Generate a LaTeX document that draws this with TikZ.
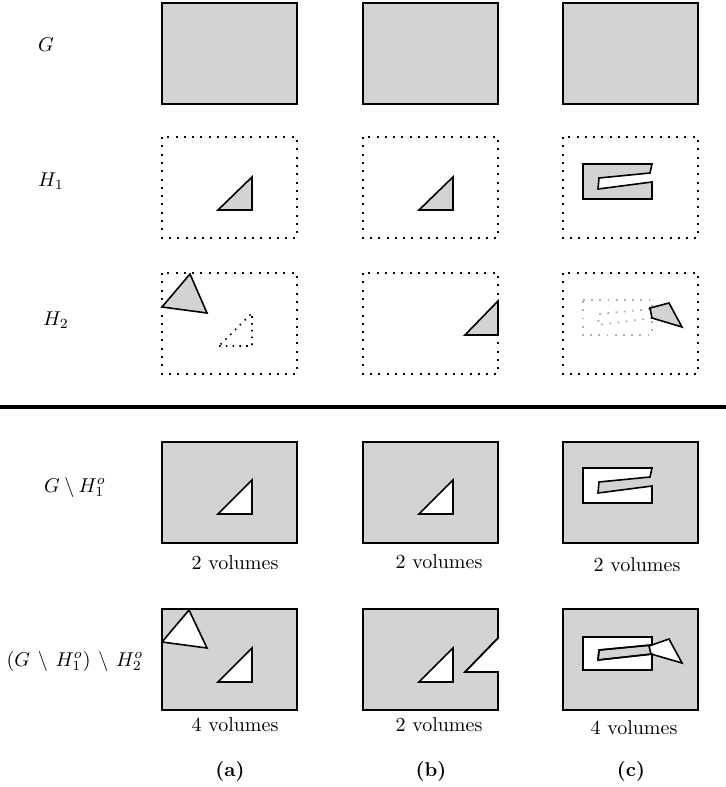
\documentclass[tikz,border=0pt]{standalone}
\usepackage{amsmath}
\definecolor{regiongray}{RGB}{211,211,211}
\definecolor{ghostgray}{RGB}{175,175,175}
\tikzset{
  region/.style={draw=black, line width=0.9pt, fill=regiongray, line join=miter},
  hole/.style={draw=black, line width=0.8pt, fill=white, line join=miter},
  piece/.style={draw=black, line width=0.8pt, fill=regiongray, line join=miter},
  frame/.style={draw=black, line width=1pt, dash pattern=on 1pt off 3.15pt},
  ghost/.style={draw=black, line width=0.8pt, dash pattern=on 0.8pt off 2.6pt},
  ghostc/.style={draw=ghostgray, line width=0.9pt, dash pattern=on 0.9pt off 3.2pt},
  rowlabel/.style={inner sep=0pt, anchor=center},
  vollabel/.style={inner sep=0pt, anchor=center},
  caption/.style={inner sep=0pt, anchor=center, font=\bfseries}
}
\begin{document}
\begin{tikzpicture}[x=0.5pt, y=-0.5pt]
\useasboundingbox (0,0) rectangle (726,787);

% ---------- row labels ----------
\node[rowlabel] (lG)  at (46,45)  {$G$};
\node[rowlabel] (lH1) at (51,181) {$H_1$};
\node[rowlabel] (lH2) at (56,320) {$H_2$};
\node[rowlabel] (lD1) at (75,487) {$G\setminus H_1^o$};
\node[rowlabel] (lD2) at (75,661) {$(G\,\setminus\, H_1^o)\,\setminus\, H_2^o$};

% ---------- row G ----------
\foreach \cx in {162,363,563}
  \draw[region] (\cx,3) rectangle ++(135,101);

% ---------- row H1 ----------
\begin{scope}[shift={(162,137)}]
  \draw[frame] (0,0) rectangle (135,101);
  \draw[piece] (56,73) -- (90,73) -- (90,40) -- cycle;
\end{scope}
\begin{scope}[shift={(363,137)}]
  \draw[frame] (0,0) rectangle (135,101);
  \draw[piece] (56,73) -- (90,73) -- (90,40) -- cycle;
\end{scope}
\begin{scope}[shift={(563,137)}]
  \draw[frame] (0,0) rectangle (135,101);
  \draw[piece] (20,27) -- (89,27) -- (87,36) -- (36,41) -- (35,52) -- (89,45)
               -- (89,62) -- (20,62) -- cycle;
\end{scope}

% ---------- row H2 ----------
\begin{scope}[shift={(162,273)}]
  \draw[frame] (0,0) rectangle (135,101);
  \draw[ghost] (57,73) -- (90,73) -- (90,40) -- cycle;
  \draw[piece] (0,34) -- (28,1) -- (45,40) -- cycle;
\end{scope}
\begin{scope}[shift={(363,273)}]
  \draw[frame] (0,0) rectangle (135,101);
  \draw[piece] (102,62) -- (135,62) -- (135,28) -- cycle;
\end{scope}
\begin{scope}[shift={(563,273)}]
  \draw[frame] (0,0) rectangle (135,101);
  \draw[ghostc] (20,27) -- (89,27) -- (89,62) -- (20,62) -- cycle;
  \draw[ghostc] (87,36) -- (36,41) -- (35,52) -- (89,45);
  \draw[piece] (87,35) -- (106,30) -- (119,54) -- (89,45) -- cycle;
\end{scope}

% ---------- separator ----------
\draw[line width=2pt] (0,407) -- (726,407);

% ---------- row G \ H1 ----------
\begin{scope}[shift={(162,442)}]
  \draw[region] (0,0) rectangle (135,101);
  \draw[hole] (56,72) -- (90,72) -- (90,38) -- cycle;
\end{scope}
\begin{scope}[shift={(363,442)}]
  \draw[region] (0,0) rectangle (135,101);
  \draw[hole] (56,72) -- (90,72) -- (90,38) -- cycle;
\end{scope}
\begin{scope}[shift={(563,442)}]
  \draw[region] (0,0) rectangle (135,101);
  \draw[hole] (20,26) -- (89,26) -- (87,35) -- (36,40) -- (35,51) -- (89,44)
              -- (89,61) -- (20,61) -- cycle;
\end{scope}
\node[vollabel] (va1) at (235,563) {2 volumes};
\node[vollabel] (vb1) at (439,562) {2 volumes};
\node[vollabel] (vc1) at (637,565) {2 volumes};

% ---------- row (G \ H1) \ H2 ----------
\begin{scope}[shift={(162,609)}]
  \draw[region] (0,0) rectangle (135,101);
  \draw[hole] (56,73) -- (90,73) -- (90,39) -- cycle;
  \draw[hole] (0,33) -- (27,1) -- (45,39) -- cycle;
\end{scope}
\begin{scope}[shift={(363,609)}]
  \draw[region] (0,0) -- (135,0) -- (135,29) -- (102,63) -- (135,63)
                -- (135,101) -- (0,101) -- cycle;
  \draw[hole] (56,73) -- (90,73) -- (90,39) -- cycle;
\end{scope}
\begin{scope}[shift={(563,609)}]
  \draw[region] (0,0) rectangle (135,101);
  \draw[hole] (20,28) rectangle (89,61);
  \draw[piece] (88,36) -- (36,41) -- (35,51) -- (89,45);
  \draw[hole] (86,37) -- (106,30) -- (119,54) -- (88,45) -- cycle;
  \draw[line width=0.8pt] (89,36) -- (36,41) -- (35,51) -- (90,45);
\end{scope}
\node[vollabel] (va2) at (235,725) {4 volumes};
\node[vollabel] (vb2) at (439,725) {2 volumes};
\node[vollabel] (vc2) at (634,728) {4 volumes};

% ---------- column captions ----------
\node[caption] (ca) at (230,771) {(a)};
\node[caption] (cb) at (431,771) {(b)};
\node[caption] (cc) at (631,771) {(c)};
\end{tikzpicture}
\end{document}
